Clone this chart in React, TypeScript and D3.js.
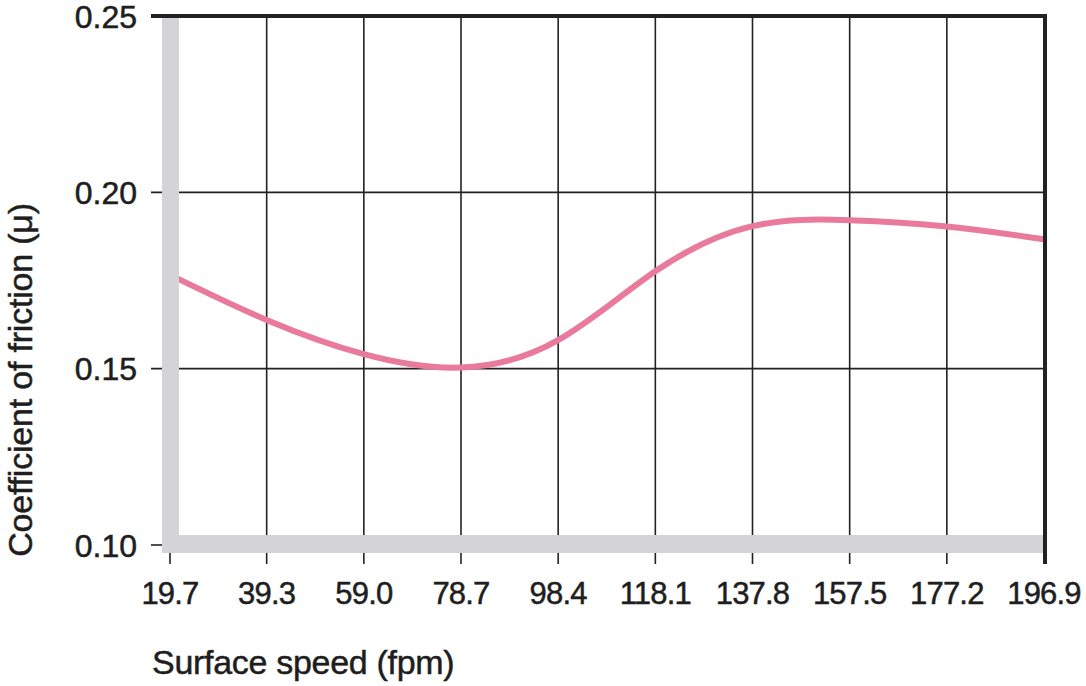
import React from "react";
import * as d3 from "d3";

const xTicks = [19.7, 39.3, 59.0, 78.7, 98.4, 118.1, 137.8, 157.5, 177.2, 196.9];
const yTicks = [0.1, 0.15, 0.2, 0.25];
const speed = [19.7, 39.3, 59.0, 78.7, 98.4, 118.1, 137.8, 157.5, 177.2, 196.9];
const friction = [0.1766, 0.1638, 0.1541, 0.1503, 0.1581, 0.1776, 0.1904, 0.1921, 0.1903, 0.1867];

const W = 1086;
const H = 686;
const font = "'Liberation Sans', Arial, Helvetica, sans-serif";

export default function App() {
  const x = d3.scaleLinear().domain([19.7, 196.9]).range([170, 1044]);
  const y = d3.scaleLinear().domain([0.1, 0.25]).range([545, 16]);
  const pts = speed.map((s, i) => [x(s), y(friction[i])] as [number, number]);
  const line = d3.line().curve(d3.curveNatural)(pts) || "";
  const x0 = x(19.7);
  const y0 = y(0.1);
  const yTop = y(0.25);
  const xEnd = x(196.9);
  const txt = { fontFamily: font, fill: "#1e1e1e", stroke: "#1e1e1e", strokeWidth: 0.5 };

  return (
    <svg width={W} height={H} style={{ position: "absolute", left: 0, top: 0, background: "#fff" }}>
      {/* horizontal grid lines */}
      {yTicks.slice(1, 3).map((t) => (
        <line key={"h" + t} x1={151} x2={xEnd} y1={y(t)} y2={y(t)} stroke="#222" strokeWidth={1.6} />
      ))}
      <line x1={151} x2={x0} y1={y0} y2={y0} stroke="#222" strokeWidth={1.6} />
      {/* vertical grid lines */}
      {xTicks.slice(0, -1).map((t) => (
        <line key={"v" + t} x1={x(t)} x2={x(t)} y1={yTop} y2={564} stroke="#222" strokeWidth={1.6} />
      ))}
      {/* curve */}
      <path d={line} fill="none" stroke="#e97a9b" strokeWidth={6} strokeLinecap="butt" />
      {/* gray axes */}
      <rect x={x0 - 8} y={yTop + 2} width={17} height={y0 + 8 - yTop - 2} fill="#d4d4d6" />
      <rect x={x0 - 8} y={y0 - 10} width={xEnd - 1 - (x0 - 8)} height={18} fill="#d4d4d6" />
      {/* top and right border */}
      <line x1={151} x2={xEnd + 3} y1={yTop} y2={yTop} stroke="#222" strokeWidth={4} />
      <line x1={xEnd + 1} x2={xEnd + 1} y1={yTop} y2={564} stroke="#222" strokeWidth={4} />
      {/* y tick labels */}
      {yTicks.map((t) => (
        <text key={"yl" + t} x={137} y={y(t)} dy="0.36em" textAnchor="end" fontSize={32} {...txt}>
          {t.toFixed(2)}
        </text>
      ))}
      {/* x tick labels */}
      {xTicks.map((t) => (
        <text key={"xl" + t} x={x(t)} y={604} textAnchor="middle" fontSize={31} letterSpacing={-0.8} {...txt}>
          {t.toFixed(1)}
        </text>
      ))}
      <text x={152} y={674} fontSize={34} letterSpacing={-0.3} {...txt}>
        Surface speed (fpm)
      </text>
      <text transform={`translate(32,380) rotate(-90)`} textAnchor="middle" fontSize={34} letterSpacing={-0.2} {...txt}>
        Coefficient of friction (μ)
      </text>
    </svg>
  );
}
